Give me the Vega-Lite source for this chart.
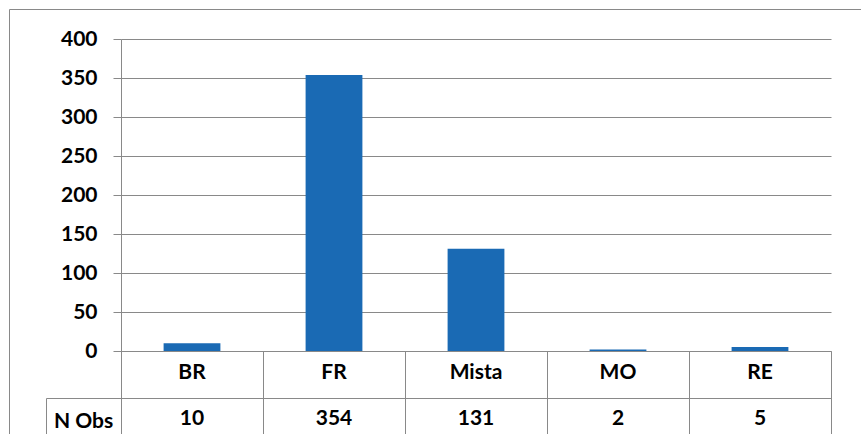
{
  "$schema": "https://vega.github.io/schema/vega-lite/v6.json",
  "description": "Number of observations by class, bar chart with a data table underneath.",
  "width": 862,
  "height": 435,
  "autosize": {"type": "none"},
  "padding": {"left": 9, "top": 9, "right": -10, "bottom": -10},
  "background": "white",
  "config": {
    "view": {"stroke": "#898989", "strokeWidth": 1},
    "font": "Lato",
    "axis": {
      "labelFont": "Lato",
      "labelFontWeight": "bold",
      "labelFontSize": 21,
      "labelColor": "#000000",
      "domainColor": "#898989",
      "domainWidth": 1,
      "tickColor": "#898989",
      "tickWidth": 1,
      "gridColor": "#898989",
      "gridWidth": 1,
      "gridOpacity": 1,
      "title": null
    }
  },
  "data": {
    "values": [
      {"cat": "BR", "n": 10},
      {"cat": "FR", "n": 354},
      {"cat": "Mista", "n": 131},
      {"cat": "MO", "n": 2},
      {"cat": "RE", "n": 5}
    ]
  },
  "layer": [
    {
      "mark": {"type": "bar", "color": "#1A6AB4"},
      "encoding": {
        "x": {
          "field": "cat",
          "type": "nominal",
          "sort": null,
          "scale": {"range": [112, 822], "paddingInner": 0.6, "paddingOuter": 0.3},
          "axis": {
            "orient": "bottom",
            "offset": -46,
            "ticks": false,
            "labelPadding": -26,
            "labelBaseline": "middle",
            "labelAngle": 0,
            "grid": false,
            "title": null
          }
        },
        "y": {
          "field": "n",
          "type": "quantitative",
          "scale": {"domain": [0, 400], "range": [342, 30], "nice": false, "zero": true},
          "axis": {
            "orient": "left",
            "offset": -112,
            "values": [0, 50, 100, 150, 200, 250, 300, 350, 400],
            "grid": true,
            "tickSize": 8,
            "labelPadding": 16,
            "title": null
          }
        }
      }
    },
    {
      "mark": {"type": "text", "font": "Lato", "fontWeight": "bold", "fontSize": 21, "color": "#000000", "dy": -2},
      "encoding": {
        "x": {
          "field": "cat",
          "type": "nominal",
          "sort": null,
          "scale": {"range": [112, 822], "paddingInner": 0, "paddingOuter": 0},
          "axis": {
            "orient": "bottom",
            "offset": -93,
            "tickBand": "extent",
            "tickSize": 93,
            "labels": false,
            "grid": false,
            "title": null
          }
        },
        "y": {
          "datum": "N Obs",
          "type": "nominal",
          "scale": {"range": [389, 435], "paddingInner": 0, "paddingOuter": 0},
          "axis": {
            "orient": "left",
            "offset": -37,
            "tickBand": "extent",
            "tickSize": -75,
            "labelPadding": 38,
            "labelAlign": "center",
            "labelBaseline": "middle",
            "grid": false,
            "title": null
          }
        },
        "text": {"field": "n", "type": "quantitative"}
      }
    }
  ],
  "resolve": {
    "scale": {"x": "independent", "y": "independent"},
    "axis": {"x": "independent", "y": "independent"}
  }
}
